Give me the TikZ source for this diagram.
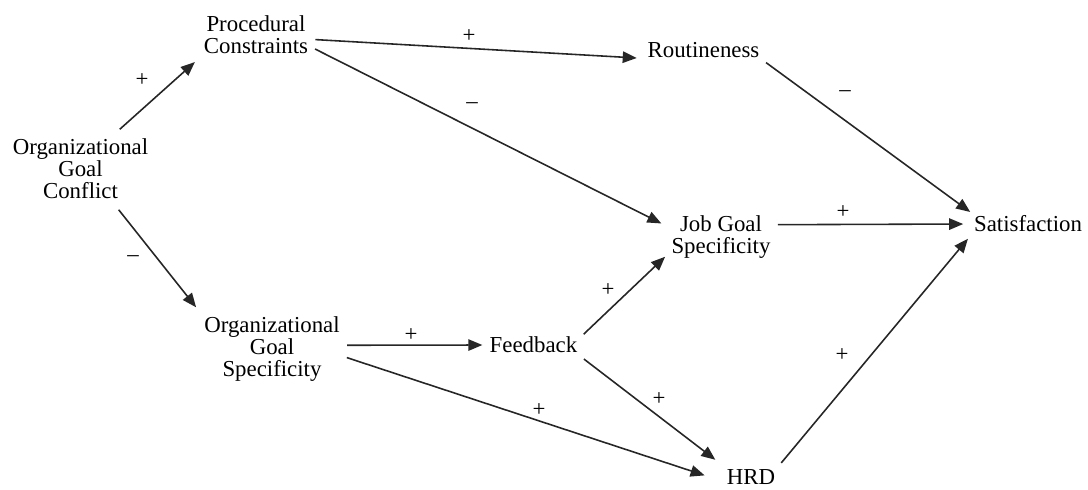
\documentclass[tikz,border=0pt]{standalone}
\usepackage{fontspec}
\setmainfont{Liberation Serif}
\usetikzlibrary{arrows.meta}

\begin{document}
\begin{tikzpicture}[every node/.style={align=center, font=\fontsize{13}{12.5}\selectfont}, var/.style={inner sep=2pt}, sign/.style={inner sep=0pt}, link/.style={draw=black!85, line width=0.9pt, -{Triangle[length=8pt,width=6.5pt]}, shorten >=2pt, shorten <=2pt}]
%================================================================
%	Frame
\useasboundingbox (0,0) rectangle (21.76,-9.78);
%================================================================
%	Nodes
\node[var] (ogc) at (1.61,-3.38) {Organizational\\Goal\\Conflict};
\node[var] (pc) at (5.12,-0.69) {Procedural\\Constraints};
\node[var] (ogs) at (5.44,-6.98) {Organizational\\Goal\\Specificity};
%----------------------------------------------------------------
\node[var] (rout) at (14.07,-1.0) {Routineness};
\node[var] (fb) at (10.67,-6.9) {Feedback};
\node[var] (jgs) at (14.42,-4.74) {Job Goal\\Specificity};
\node[var] (hrd) at (15.02,-9.54) {HRD};
%----------------------------------------------------------------
\node[var] (sat) at (20.56,-4.48) {Satisfaction};

%================================================================
%	Lines
\draw[link, shorten <=5pt, shorten >=4pt] (ogc.46) -- (pc.south west);
\draw[link, shorten <=5pt, shorten >=4pt] (ogc.314) -- (ogs.north west);
%----------------------------------------------------------------
\draw[link, shorten >=4pt] (pc.355) -- (rout.188);
\draw[link, shorten >=4pt] (pc.347) -- (jgs.169);
\draw[link] (ogs.3) -- (fb.west);
\draw[link, shorten >=11pt] (ogs.354) -- (hrd.189);
%----------------------------------------------------------------
\draw[link] (fb.10) -- (jgs.198);
\draw[link, shorten >=5.5pt] (fb.south east) -- (hrd.north west);
%----------------------------------------------------------------
\draw[link, shorten >=0pt] (rout.350) -- (sat.north west);
\draw[link, shorten >=4pt] (jgs.13) -- (sat.west);
\draw[link] (hrd.north east) -- (sat.south west);

%================================================================
%	Signs
\node[sign] (s1) at (2.84,-1.6) {+};
\node[sign] (s2) at (2.66,-5.18) {--};
\node[sign] (s3) at (9.38,-0.72) {+};
\node[sign] (s4) at (9.44,-2.12) {--};
\node[sign] (s5) at (16.9,-1.88) {--};
\node[sign] (s6) at (16.86,-4.24) {+};
\node[sign] (s7) at (8.22,-6.7) {+};
\node[sign] (s8) at (12.16,-5.8) {+};
\node[sign] (s9) at (13.18,-7.98) {+};
\node[sign] (s10) at (10.78,-8.2) {+};
\node[sign] (s11) at (16.84,-7.1) {+};
%================================================================
\end{tikzpicture}
\end{document}
